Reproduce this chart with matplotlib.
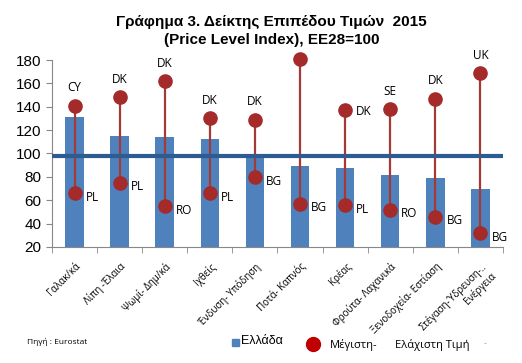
import matplotlib
matplotlib.use('Agg')
import matplotlib.pyplot as plt
from matplotlib.patches import Rectangle
from matplotlib.lines import Line2D
import numpy as np

categories = ['Γαλακ/κά', 'Λίπη -Έλαια', 'Ψωμί- Δημ/κά', 'Ιχθείς', 'Ένδυση- Υπόδηση',
              'Ποτά- Καπνός', 'Κρέας', 'Φρούτα- Λαχανικά', 'Ξενοδοχεία- Εστίαση',
              'Στέγαση-Ύδρευση-..\nΕνέργεια']
greece = [131, 115, 114, 112, 99, 89, 88, 82, 79, 70]
max_vals = [141, 148, 162, 130, 129, 181, 137, 138, 147, 169]
max_cc = ['CY', 'DK', 'DK', 'DK', 'DK', 'UK', 'DK', 'SE', 'DK', 'UK']
min_vals = [66, 75, 55, 66, 80, 57, 56, 52, 46, 32]
min_cc = ['PL', 'PL', 'RO', 'PL', 'BG', 'BG', 'PL', 'RO', 'BG', 'BG']
eu_level = 98

# where the max labels sit: above the dot or to its right
max_pos = ['up', 'up', 'up', 'up', 'up', 'right', 'right', 'up', 'up', 'up']

fig = plt.figure(figsize=(5.22, 3.63), dpi=100)
ax = fig.add_axes([0.0996, 0.3196, 0.8640, 0.5151])

x = np.arange(len(categories))
ax.bar(x, greece, width=0.41, color='#4f81bd', zorder=2)
ax.vlines(x, min_vals, max_vals, color='#a33a36', lw=1.6, zorder=3)
ax.axhline(eu_level, color='#2c5c91', lw=3, zorder=4)
ax.plot(x, max_vals, 'o', ms=9.5, color='#a52a2a', zorder=5, clip_on=False)
ax.plot(x, min_vals, 'o', ms=9.5, color='#a52a2a', zorder=5, clip_on=False)

lab_font = dict(family='Open Sans', fontsize=8.5, color='black')
for i in x:
    if max_pos[i] == 'up':
        ax.annotate(max_cc[i], (i, max_vals[i]), xytext=(0, 8), textcoords='offset points',
                    ha='center', va='bottom', **lab_font)
    else:
        ax.annotate(max_cc[i], (i, max_vals[i]), xytext=(8, -1), textcoords='offset points',
                    ha='left', va='center', **lab_font)
    ax.annotate(min_cc[i], (i, min_vals[i]), xytext=(8, -3), textcoords='offset points',
                ha='left', va='center', **lab_font)

ax.set_xlim(-0.5, len(categories) - 0.5)
ax.set_ylim(20, 180)
ax.set_yticks(range(20, 181, 20))
ax.set_xticks(x)
ax.set_xticklabels(categories, rotation=45, ha='right', rotation_mode='anchor',
                   family='Open Sans', fontsize=7)
ax.set_xticks(np.arange(-0.5, len(categories), 1), minor=True)
ax.tick_params(axis='x', which='major', length=0, pad=10)
ax.tick_params(axis='x', which='minor', length=4, color='#888888')
ax.tick_params(axis='y', length=4, color='#888888', labelsize=11)
for t in ax.get_yticklabels():
    t.set_family('Liberation Sans')
for s in ['top', 'right']:
    ax.spines[s].set_visible(False)
for s in ['left', 'bottom']:
    ax.spines[s].set_color('#888888')

fig.text(0.52, 0.94, 'Γράφημα 3. Δείκτης Επιπέδου Τιμών  2015', ha='center', va='center',
         family='Liberation Sans', fontweight='bold', fontsize=11)
fig.text(0.52, 0.89, '(Price Level Index), ΕΕ28=100', ha='center', va='center',
         family='Liberation Sans', fontweight='bold', fontsize=11)

fig.text(0.052, 0.058, 'Πηγή : Eurostat', ha='left', va='center', family='Open Sans', fontsize=6)

# legend drawn by hand, as in the original layout
fig.add_artist(Rectangle((232 / 522, 0.047), 7 / 522, 7 / 363, color='#4f81bd',
                         transform=fig.transFigure))
fig.text(241 / 522, 0.06, 'Ελλάδα', ha='left', va='center', family='Liberation Sans', fontsize=9)
fig.add_artist(Line2D([313 / 522], [0.052], marker='o', ms=10, color='#c00000', ls='none',
                      transform=fig.transFigure))
fig.text(330 / 522, 0.05, 'Μέγιστη-', ha='left', va='center', family='Open Sans', fontsize=8)
fig.text(395 / 522, 0.05, 'Ελάχιστη Τιμή', ha='left', va='center', family='Open Sans', fontsize=8)
fig.text(485 / 522, 0.052, '-', ha='center', va='center', fontsize=6, color='#aaaaaa')

fig.savefig('out.png', dpi=100)
